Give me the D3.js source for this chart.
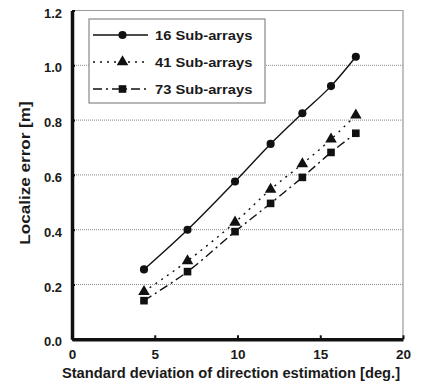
<!DOCTYPE html>
<html>
<head>
<meta charset="utf-8">
<script src="https://cdn.jsdelivr.net/npm/d3@7"></script>
<style>
  body { margin: 0; background: #fff; }
  text { font-family: "Liberation Sans", Arial, sans-serif; font-weight: bold; fill: #1a1a1a; }
</style>
</head>
<body>
<svg id="chart" width="445" height="385"></svg>
<script>
// data
const stdDev = [4.35, 6.98, 9.85, 12.0, 13.92, 15.65, 17.15];
const seriesNames = ['16 Sub-arrays', '41 Sub-arrays', '73 Sub-arrays'];
const err16 = [0.255, 0.400, 0.576, 0.713, 0.825, 0.924, 1.031];
const err41 = [0.174, 0.286, 0.427, 0.547, 0.640, 0.730, 0.818];
const err73 = [0.141, 0.247, 0.393, 0.496, 0.591, 0.682, 0.752];
const xTicks = [0, 5, 10, 15, 20];
const yTicks = [0.0, 0.2, 0.4, 0.6, 0.8, 1.0, 1.2];

const svg = d3.select('#chart');
const margin = { left: 72, right: 42, top: 10.5, bottom: 45.7 };
const width = +svg.attr('width');
const height = +svg.attr('height');

const x = d3.scaleLinear().domain([0, 20]).range([margin.left, width - margin.right]);
const y = d3.scaleLinear().domain([0, 1.2]).range([height - margin.bottom, margin.top]);

// widen text a bit, the original lettering is broader than Arial
const stretch = (sel, k) => sel.each(function () {
  const len = this.getComputedTextLength();
  d3.select(this).attr('textLength', len * k).attr('lengthAdjust', 'spacingAndGlyphs');
});

// dotted gridlines
svg.append('g').selectAll('line')
  .data(yTicks.filter(d => d > 0 && d < 1.2))
  .join('line')
    .attr('x1', x(0)).attr('x2', x(20))
    .attr('y1', d => y(d)).attr('y2', d => y(d))
    .attr('stroke', '#888').attr('stroke-width', 1)
    .attr('stroke-dasharray', '1,1');

// top and right frame
svg.append('path')
  .attr('d', `M${x(0)},${y(1.2)}H${x(20)}V${y(0)}`)
  .attr('fill', 'none').attr('stroke', '#999').attr('stroke-width', 1.2);

// axes
const xAxis = d3.axisBottom(x).tickValues(xTicks).tickSizeInner(-4).tickSizeOuter(0).tickPadding(10);
const gx = svg.append('g').attr('transform', `translate(0,${y(0)})`).call(xAxis);
gx.select('.domain').attr('stroke', '#111').attr('stroke-width', 3.5);
gx.selectAll('.tick line').attr('stroke', '#111').attr('stroke-width', 2);
gx.selectAll('.tick text').attr('font-size', '13.5px').attr('fill', '#1a1a1a')
  .attr('font-family', '"Liberation Sans", Arial, sans-serif').attr('font-weight', 'bold');

const yAxis = d3.axisLeft(y).tickValues(yTicks).tickFormat(d3.format('.1f'))
  .tickSizeInner(-3).tickSizeOuter(0).tickPadding(10);
const gy = svg.append('g').attr('transform', `translate(${x(0)},0)`).call(yAxis);
gy.select('.domain').attr('stroke', '#111').attr('stroke-width', 3.5);
gy.selectAll('.tick line').attr('stroke', '#111').attr('stroke-width', 2);
gy.selectAll('.tick text').attr('font-size', '13px').attr('fill', '#1a1a1a').attr('dy', '0.5em')
  .attr('font-family', '"Liberation Sans", Arial, sans-serif').attr('font-weight', 'bold');

// axis titles
svg.append('text')
  .attr('x', 231).attr('y', 378)
  .attr('text-anchor', 'middle').attr('font-size', '14px')
  .text('Standard deviation of direction estimation [deg.]')
  .call(stretch, 1.05);

svg.append('text')
  .attr('transform', `translate(30,${173}) rotate(-90)`)
  .attr('text-anchor', 'middle').attr('font-size', '14px')
  .text('Localize error [m]')
  .call(stretch, 1.22);

// series
const series = [
  { name: seriesNames[0], values: err16, dash: null, marker: d3.symbolCircle, size: 52 },
  { name: seriesNames[1], values: err41, dash: '2,5', marker: d3.symbolTriangle, size: 58 },
  { name: seriesNames[2], values: err73, dash: '9,4,2,4', marker: d3.symbolSquare, size: 58 }
];

const line = d3.line()
  .x(d => x(d[0]))
  .y(d => y(d[1]))
  .curve(d3.curveCatmullRom);

const sg = svg.append('g').selectAll('g.series').data(series).join('g').attr('class', 'series');

sg.append('path')
  .attr('d', s => line(stdDev.map((v, i) => [v, s.values[i]])))
  .attr('fill', 'none').attr('stroke', '#111').attr('stroke-width', 1.4)
  .attr('stroke-dasharray', s => s.dash);

sg.each(function (s) {
  d3.select(this).selectAll('path.mark')
    .data(stdDev.map((v, i) => [v, s.values[i]]))
    .join('path')
      .attr('class', 'mark')
      .attr('transform', d => `translate(${x(d[0])},${y(d[1])})`)
      .attr('d', d3.symbol().type(s.marker).size(s.size))
      .attr('fill', '#111');
});

// legend
const legend = svg.append('g').attr('transform', 'translate(89,19)');
legend.append('rect')
  .attr('width', 176).attr('height', 84)
  .attr('fill', '#fff').attr('stroke', '#888').attr('stroke-width', 1.2);

const rows = legend.selectAll('g.row').data(series).join('g')
  .attr('class', 'row')
  .attr('transform', (d, i) => `translate(0,${16 + i * 27})`);

rows.append('line')
  .attr('x1', 4).attr('x2', 59)
  .attr('stroke', '#111').attr('stroke-width', 1.4)
  .attr('stroke-dasharray', d => d.dash);

rows.append('path')
  .attr('transform', 'translate(33.5,0)')
  .attr('d', d => d3.symbol().type(d.marker).size(d.size)())
  .attr('fill', '#111');

rows.append('text')
  .attr('x', 66).attr('dy', '0.36em')
  .attr('font-size', '13.5px')
  .text(d => d.name)
  .call(stretch, 1.09);
</script>
</body>
</html>
